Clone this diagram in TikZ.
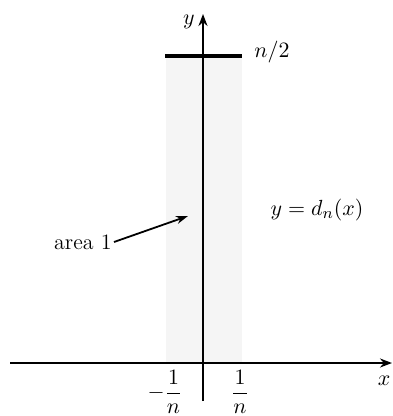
\documentclass[tikz,border=0pt]{standalone}
\usetikzlibrary{arrows.meta}
\begin{document}
\begin{tikzpicture}[x=0.5pt,y=-0.5pt,
  axis/.style={line width=1pt,-{Stealth[length=6pt,width=4.5pt]}},
  lbl/.style={inner sep=1pt,font=\fontsize{11}{13}\selectfont},
  pointer/.style={line width=0.9pt,-{Stealth[length=6pt,width=4pt]}}]
\useasboundingbox (0,0) rectangle (392,416);
% shaded region
\fill[black!4] (166,56) rectangle (242,363);
% axes
\coordinate (xs) at (10,363);
\coordinate (xe) at (392,363);
\coordinate (ys) at (203,401);
\coordinate (ye) at (203,14);
\draw[axis] (xs) -- (xe);
\draw[axis] (ys) -- (ye);
% top line
\coordinate (tl) at (165,56);
\coordinate (tr) at (242,56);
\draw[line width=1.6pt] (tl) -- (tr);
% labels
\node[lbl] (ylab) at (189,22) {$y$};
\node[lbl] (xlab) at (384,381) {$x$};
\node[lbl] (half) at (272,52) {$n/2$};
\node[lbl] (dn) at (317,210) {$y = d_n(x)$};
\node[lbl] (mone) at (165,392) {$\displaystyle -\frac{1}{n}$};
\node[lbl] (one) at (240,392) {$\displaystyle \frac{1}{n}$};
\node[lbl,anchor=east] (area) at (114,242) {area 1};
\coordinate (atip) at (188,216);
\draw[pointer] (area.east) -- (atip);
\end{tikzpicture}
\end{document}
